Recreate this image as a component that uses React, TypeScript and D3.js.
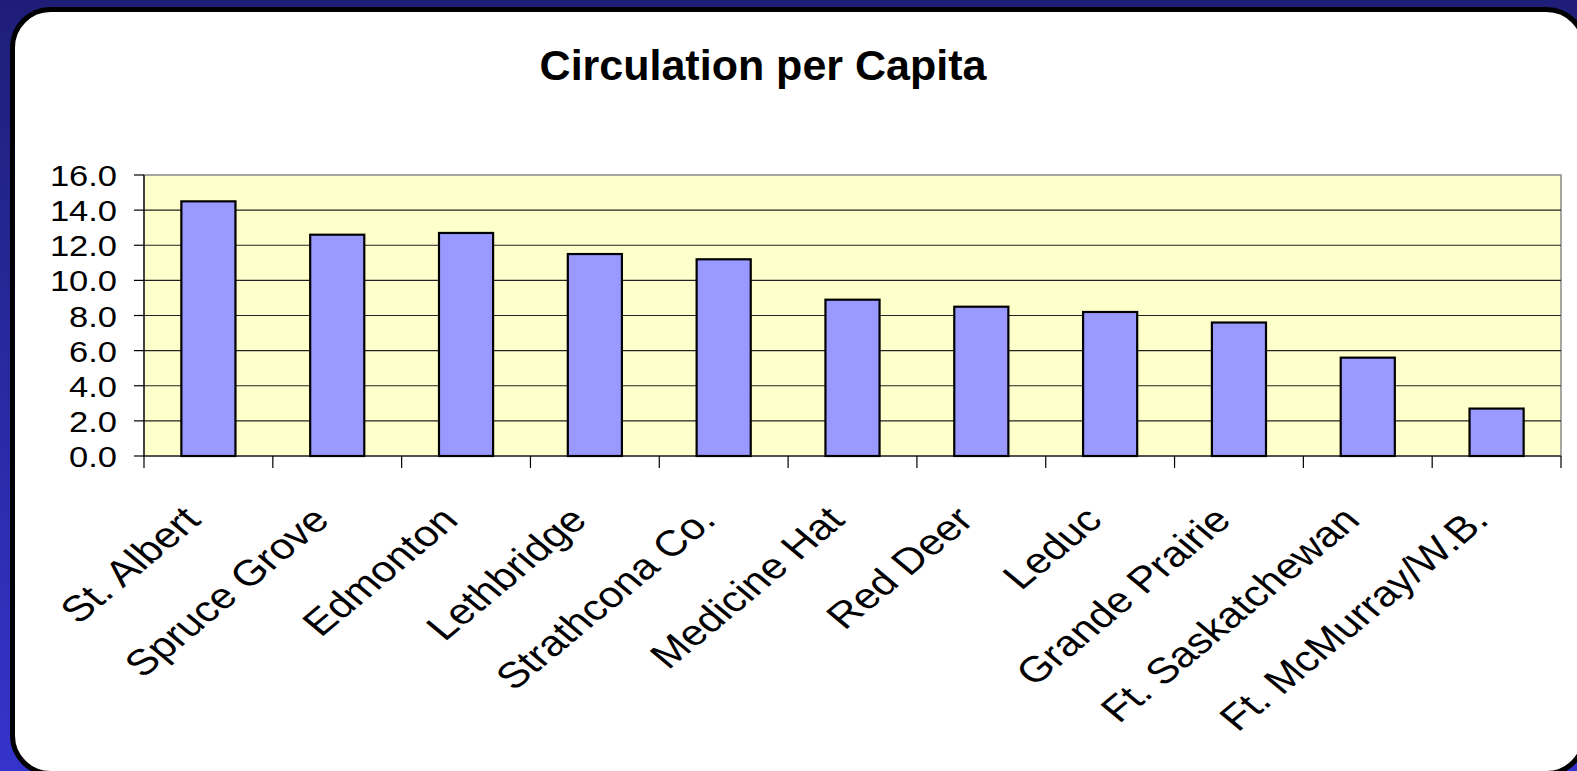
import {useEffect, useRef} from "react";
import * as d3 from "d3";

// data
const libraries = [
    "St. Albert", "Spruce Grove", "Edmonton", "Lethbridge", "Strathcona Co.",
    "Medicine Hat", "Red Deer", "Leduc", "Grande Prairie", "Ft. Saskatchewan", "Ft. McMurray/W.B."
];
const circulation = [14.5, 12.6, 12.7, 11.5, 11.2, 8.9, 8.5, 8.2, 7.6, 5.6, 2.7];
const yTicks = [0, 2, 4, 6, 8, 10, 12, 14, 16];

const W = 1577;
const H = 771;
const font = "'Liberation Sans', Arial, sans-serif";

const App = () => {
    const svgRef = useRef<SVGSVGElement>(null);

    useEffect(() => {
        const svg = d3.select(svgRef.current);
        svg.selectAll("*").remove();

        // slide background
        const defs = svg.append("defs");
        const grad = defs.append("linearGradient").attr("id", "bg").attr("x1", 0).attr("y1", 0).attr("x2", 0).attr("y2", 1);
        grad.append("stop").attr("offset", "0%").attr("stop-color", "#1e1e78");
        grad.append("stop").attr("offset", "100%").attr("stop-color", "#3434cc");
        svg.append("rect").attr("width", W).attr("height", H).attr("fill", "url(#bg)");

        // white panel
        svg.append("rect")
            .attr("x", 12.5).attr("y", 9.5)
            .attr("width", 1572).attr("height", 764)
            .attr("rx", 38).attr("ry", 38)
            .attr("fill", "#fff").attr("stroke", "#000").attr("stroke-width", 5);

        svg.append("text")
            .attr("x", 763).attr("y", 80)
            .attr("text-anchor", "middle")
            .attr("font-family", font).attr("font-weight", "bold").attr("font-size", 43)
            .text("Circulation per Capita");

        const left = 144, right = 1561, top = 175, bottom = 456;

        const x = d3.scaleBand<string>().domain(libraries).range([left, right])
            .paddingInner(0.58).paddingOuter(0.29);
        const step = (right - left) / libraries.length;
        const y = d3.scaleLinear().domain([0, 16]).range([bottom, top]);

        // plot area
        svg.append("rect")
            .attr("x", left).attr("y", top)
            .attr("width", right - left).attr("height", bottom - top)
            .attr("fill", "#ffffcc").attr("stroke", "#888").attr("stroke-width", 1.5);

        svg.append("g").selectAll("line")
            .data(yTicks.slice(1, -1))
            .join("line")
            .attr("x1", left).attr("x2", right)
            .attr("y1", d => y(d)).attr("y2", d => y(d))
            .attr("stroke", "#222").attr("stroke-width", 1.2);

        // bars
        svg.append("g").selectAll("rect")
            .data(circulation)
            .join("rect")
            .attr("x", (d, i) => x(libraries[i])!)
            .attr("y", d => y(d))
            .attr("width", x.bandwidth())
            .attr("height", d => bottom - y(d))
            .attr("fill", "#9999ff").attr("stroke", "#000").attr("stroke-width", 2.2);

        // y axis
        const yAxis = svg.append("g");
        yAxis.append("line").attr("x1", left).attr("x2", left).attr("y1", top).attr("y2", bottom)
            .attr("stroke", "#000").attr("stroke-width", 1.2);
        yAxis.selectAll("line.tick")
            .data(yTicks)
            .join("line").attr("class", "tick")
            .attr("x1", left - 10).attr("x2", left)
            .attr("y1", d => y(d)).attr("y2", d => y(d))
            .attr("stroke", "#000").attr("stroke-width", 1.2);
        yAxis.selectAll("text")
            .data(yTicks)
            .join("text")
            .attr("transform", d => `translate(117,${y(d) + 11}) scale(1.15,1)`)
            .attr("text-anchor", "end")
            .attr("font-family", font).attr("font-size", 30)
            .text(d => d3.format(".1f")(d));

        // x axis
        const xAxis = svg.append("g");
        xAxis.append("line").attr("x1", left).attr("x2", right).attr("y1", bottom).attr("y2", bottom)
            .attr("stroke", "#000").attr("stroke-width", 1.2);
        xAxis.selectAll("line.tick")
            .data(d3.range(libraries.length + 1))
            .join("line").attr("class", "tick")
            .attr("x1", i => left + i * step).attr("x2", i => left + i * step)
            .attr("y1", bottom).attr("y2", bottom + 12)
            .attr("stroke", "#000").attr("stroke-width", 1.2);
        xAxis.selectAll("text")
            .data(libraries)
            .join("text")
            .attr("transform", d => `translate(${x(d)! + x.bandwidth() / 2 - 6},${bottom + 66}) scale(1.2,1) rotate(-45)`)
            .attr("text-anchor", "end")
            .attr("font-family", font).attr("font-size", 36)
            .text(d => d);
    }, []);

    return (
        <svg ref={svgRef} width={W} height={H}
             style={{position: "fixed", left: 0, top: 0, display: "block"}} />
    );
};

export default App;
